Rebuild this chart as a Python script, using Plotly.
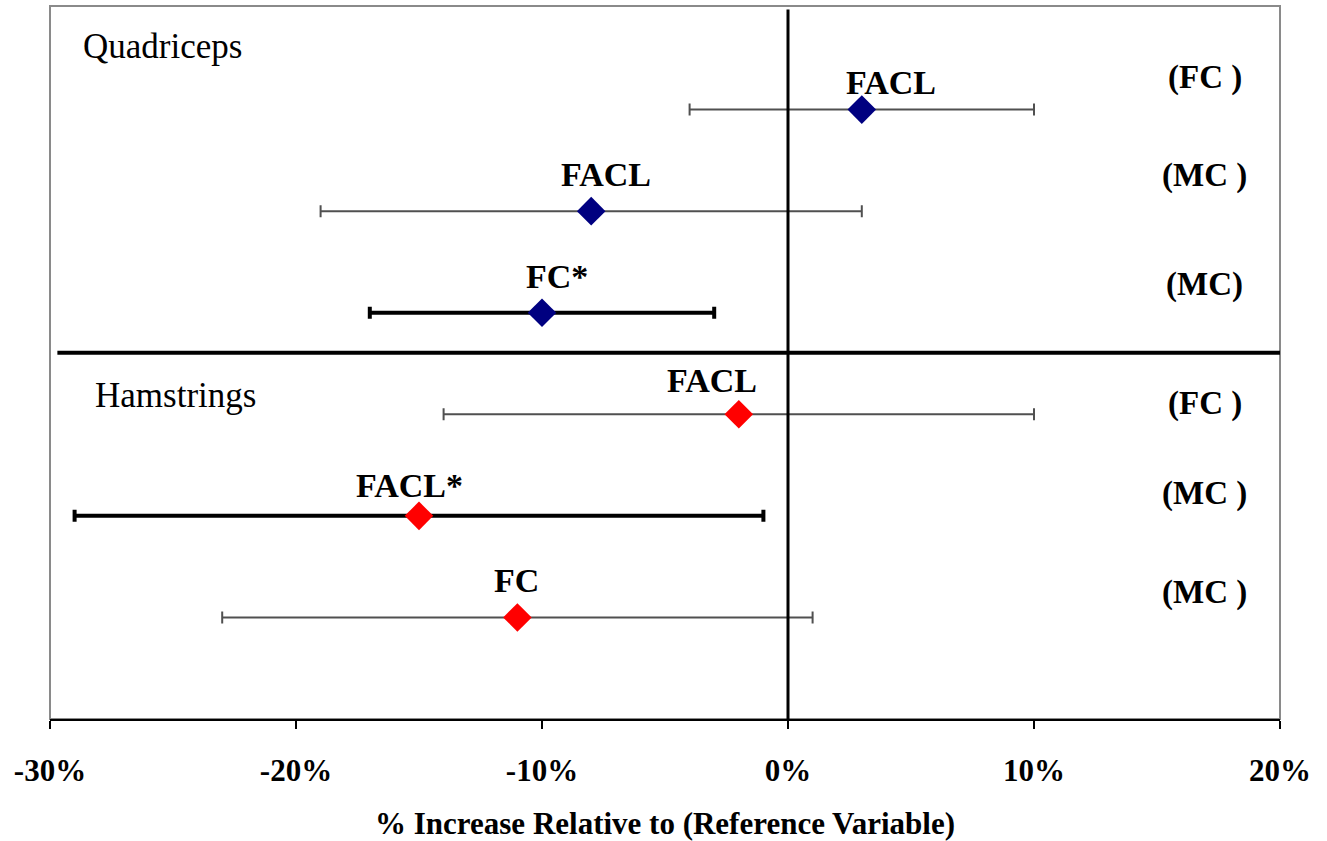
import plotly.graph_objects as go

# ---------------- data ----------------
groups = ["Quadriceps", "Quadriceps", "Quadriceps", "Hamstrings", "Hamstrings", "Hamstrings"]
labels = ["FACL", "FACL", "FC*", "FACL", "FACL*", "FC"]
refs = ["(FC )", "(MC )", "(MC)", "(FC )", "(MC )", "(MC )"]
values = [3, -8, -10, -2, -15, -11]          # % increase
lower = [-4, -19, -17, -14, -29, -23]         # CI lower bound
upper = [10, 3, -3, 10, -1, 1]                # CI upper bound
significant = [False, False, True, False, True, False]
rows = [6, 5, 4, 3, 2, 1]                     # row positions (top to bottom)
tick_vals = [-30, -20, -10, 0, 10, 20]
tick_labels = ["-30%", "-20%", "-10%", "0%", "10%", "20%"]
x_title = "% Increase Relative to (Reference Variable)"

# ---------------- layout helpers ----------------
label_x = [4.2, -7.4, -9.4, -3.1, -15.4, -11.05]
label_dy = [27, 37, 36, 34, 30, 37]
ref_x = 16.95
ref_y = [6.32, 5.35, 4.28, 3.11, 2.22, 1.25]
FONT = "Liberation Serif, Times New Roman, serif"

fig = go.Figure()

for sig in (False, True):
    idx = [i for i in range(len(values)) if significant[i] == sig]
    for grp, col in (("Quadriceps", "#000080"), ("Hamstrings", "#ff0000")):
        ii = [i for i in idx if groups[i] == grp]
        if not ii:
            continue
        fig.add_trace(go.Scatter(
            x=[values[i] for i in ii],
            y=[rows[i] for i in ii],
            mode="markers",
            marker=dict(symbol="diamond", size=22, color=col,
                        line=dict(width=0)),
            error_x=dict(type="data", symmetric=False,
                         array=[upper[i] - values[i] for i in ii],
                         arrayminus=[values[i] - lower[i] for i in ii],
                         color="#000000" if sig else "#505050",
                         thickness=4 if sig else 2,
                         width=6),
            showlegend=False, hoverinfo="skip", cliponaxis=False,
        ))

annotations = []
for i in range(len(values)):
    annotations.append(dict(x=label_x[i], y=rows[i], yshift=label_dy[i],
                            text=labels[i], showarrow=False,
                            xanchor="center", yanchor="middle",
                            font=dict(family=FONT, size=34, color="black", weight="bold")))
    annotations.append(dict(x=ref_x, y=ref_y[i], text=refs[i], showarrow=False,
                            xanchor="center", yanchor="middle",
                            font=dict(family=FONT, size=33, color="black", weight="bold")))
annotations.append(dict(x=-28.75, y=6.62, text="Quadriceps", showarrow=False,
                        xanchor="left", yanchor="middle",
                        font=dict(family=FONT, size=35, color="black")))
annotations.append(dict(x=-28.25, y=3.19, text="Hamstrings", showarrow=False,
                        xanchor="left", yanchor="middle",
                        font=dict(family=FONT, size=35, color="black")))

shapes = [
    dict(type="rect", xref="paper", yref="paper", x0=0, x1=1, y0=0, y1=1,
         line=dict(color="#8a8a8a", width=2), layer="below"),
    dict(type="line", xref="x", yref="y", x0=0, x1=0, y0=0, y1=6.985,
         line=dict(color="black", width=3)),
    dict(type="line", xref="x", yref="y", x0=-29.7, x1=20, y0=3.606, y1=3.606,
         line=dict(color="black", width=4)),
]

fig.update_layout(
    width=1327, height=841,
    margin=dict(l=50, r=47, t=6, b=122),
    paper_bgcolor="white", plot_bgcolor="white",
    annotations=annotations, shapes=shapes,
    xaxis=dict(range=[-30, 20], tickvals=tick_vals, ticktext=tick_labels,
               showgrid=False, zeroline=False, showline=True,
               linecolor="black", linewidth=2,
               ticks="outside", ticklen=8, tickwidth=2, tickcolor="black",
               ticklabelstandoff=15,
               tickfont=dict(family=FONT, size=31, color="black", weight="bold"),
               title=dict(text=x_title, standoff=26,
                          font=dict(family=FONT, size=31, color="black", weight="bold"))),
    yaxis=dict(range=[0, 7.02], showgrid=False, zeroline=False,
               showline=False, showticklabels=False, ticks=""),
)

fig.write_html("out.html", config={"displayModeBar": False},
               post_script="document.body.style.margin='0px';document.body.style.overflow='hidden';")
